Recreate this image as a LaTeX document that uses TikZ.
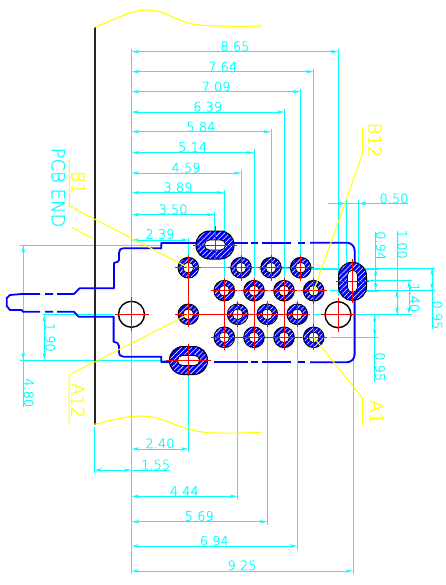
\documentclass[tikz,border=0pt]{standalone}
\usepackage{fontspec}
\setmainfont{DejaVu Sans}
\newfontfamily\thinfont[FakeBold=0.5]{DejaVu Sans ExtraLight}
\usetikzlibrary{arrows.meta,patterns.meta}
\definecolor{dimc}{RGB}{0,255,255}
\definecolor{leadc}{RGB}{255,255,0}
\definecolor{bodyc}{RGB}{0,0,255}
\definecolor{redc}{RGB}{255,0,0}
\tikzset{
 dimline/.style={draw=dimc,line width=0.8pt},
 dimarrow/.style={dimline,{Stealth[length=8pt,width=3.4pt]}-{Stealth[length=8pt,width=3.4pt]}},
 dimtext/.style={text=dimc,font=\thinfont\fontsize{13}{13}\selectfont,inner sep=0pt},
 vdimtext/.style={dimtext,rotate=-90},
 leadline/.style={draw=leadc,line width=1pt},
 leadtext/.style={text=leadc,font=\thinfont\fontsize{18}{18}\selectfont,inner sep=0pt,rotate=-90},
 bodyline/.style={draw=bodyc,line width=1.8pt},
 centreline/.style={draw=redc,line width=0.8pt},
 paleline/.style={draw=redc!55,line width=1.4pt},
 holeline/.style={draw=black,line width=1.4pt},
 ringfill/.style={fill=bodyc,draw=black,line width=1pt},
 ringhatch/.style={even odd rule,pattern={Lines[angle=45,distance=3.6pt,line width=0.55pt]},pattern color=white},
 ringhole/.style={fill=white,draw=black,line width=0.8pt},
}
\newcommand{\pinring}[2]{%
 \path[ringfill] (#1,#2) circle[radius=10.3];
 \path[ringhatch] (#1,#2) circle[radius=9.7];
 \path[ringhole] (#1,#2) circle[radius=5.4];
 \draw[centreline] (#1-13,#2) -- (#1+13,#2) (#1,#2-13) -- (#1,#2+13);}
\newcommand{\slot}[6]{% x,y,hw,hh,ihw,ihh
 \pgfmathsetmacro{\ra}{min(#3,#4)-0.5}
 \pgfmathsetmacro{\rb}{min(#5,#6)-0.2}
 \path[ringfill,rounded corners=\ra pt] (#1-#3,#2-#4) rectangle (#1+#3,#2+#4);
 \path[ringhatch,rounded corners=\ra pt] (#1-#3+.6,#2-#4+.6) rectangle (#1+#3-.6,#2+#4-.6);
 \path[ringhole,rounded corners=\rb pt] (#1-#5,#2-#6) rectangle (#1+#5,#2+#6);}
\begin{document}
\begin{tikzpicture}[x=1pt,y=-1pt]
\useasboundingbox[fill=white] (0,0) rectangle (446,585);
% ---- named points of the connector
\coordinate (bone) at (188.3,267.7);
\coordinate (aTwelve) at (188.3,314.3);
\coordinate (bTwelve) at (313.7,290.7);
\coordinate (aOne) at (313.7,337.3);
% ---- top dimension extension lines
\draw[dimline] (131.5,49) -- (131.5,573.5);
\draw[dimline] (338.3,49) -- (338.3,296);
\draw[dimline] (313.7,69) -- (313.7,280);
\draw[dimline] (300.3,89) -- (300.3,257);
\draw[dimline] (284.3,109) -- (284.3,280);
\draw[dimline] (271,129) -- (271,257);
\draw[dimline] (254.3,149) -- (254.3,280);
\draw[dimline] (241,170) -- (241,257);
\draw[dimline] (224.3,190) -- (224.3,280);
\draw[dimline] (214.7,212) -- (214.7,232);
\draw[dimline] (188.5,238) -- (188.5,255);
\foreach \yy/\xx in {51.7/338.3,71.7/313.7,91.7/300.3,112/284.3,131.7/271,152.7/254.3,173/241,192.7/224.3,214.7/214.7,240/188.5}
 \draw[dimarrow] (131.5,\yy) -- (\xx,\yy);
\node[dimtext] (t865) at (235,46.3) {8.65};
\node[dimtext] (t764) at (222.7,66.7) {7.64};
\node[dimtext] (t709) at (216,86.7) {7.09};
\node[dimtext] (t639) at (207.7,106.7) {6.39};
\node[dimtext] (t584) at (201,126.7) {5.84};
\node[dimtext] (t514) at (192.7,147) {5.14};
\node[dimtext] (t459) at (186,167.7) {4.59};
\node[dimtext] (t389) at (178,187.3) {3.89};
\node[dimtext] (t350) at (173,209.3) {3.50};
\node[dimtext] (t239) at (160,234) {2.39};
% ---- bottom dimension lines
\draw[dimline] (188.5,375) -- (188.5,452);
\draw[dimline] (94.5,426.7) -- (94.5,473.3);
\draw[dimline] (237.5,327) -- (237.5,499);
\draw[dimline] (267.5,327) -- (267.5,525);
\draw[dimline] (297.3,327) -- (297.3,549.7);
\draw[dimline] (353,275) -- (353,573.5);
\foreach \yy/\xx in {449/188.5,496.3/237.5,521.7/267.5,546/297.3,571/353}
 \draw[dimarrow] (131.5,\yy) -- (\xx,\yy);
\draw[dimarrow] (94.5,470) -- (131.5,470);
\draw[dimline] (131.5,470) -- (170,470);
\node[dimtext] (t240) at (160,443.3) {2.40};
\node[dimtext] (t155) at (155.7,464.7) {1.55};
\node[dimtext] (t444) at (184.3,491) {4.44};
\node[dimtext] (t569) at (199.3,516) {5.69};
\node[dimtext] (t694) at (214.3,540.7) {6.94};
\node[dimtext] (t925) at (242,565.3) {9.25};
% ---- right dimension lines
\draw[dimline] (328,203.5) -- (408,203.5);
\draw[dimline] (346.3,200) -- (346.3,265);
\draw[dimline] (358.3,200) -- (358.3,290);
\draw[dimline,-{Stealth[length=8pt,width=3.4pt]}] (336,203.5) -- (346.3,203.5);
\draw[dimline,-{Stealth[length=8pt,width=3.4pt]}] (369,203.5) -- (358.3,203.5);
\node[dimtext] (t050) at (394,198.3) {0.50};
\draw[dimline] (280,268) -- (434.7,268) (300,269.3) -- (379,269.3);
\draw[dimline] (330,290.3) -- (434.7,290.3) (340,291.7) -- (379,291.7);
\draw[dimline] (358,280.7) -- (412,280.7);
\draw[dimline] (313,314.3) -- (412,314.3);
\draw[dimline] (330,337) -- (378,337);
\draw[dimline] (375.7,231.7) -- (375.7,290);
\draw[dimarrow] (375.7,268) -- (375.7,290.3);
\node[vdimtext] (t094) at (380.8,245.7) {0.94};
\draw[dimline] (397,230.7) -- (397,314.3);
\draw[dimarrow] (397,290.3) -- (397,314.3);
\node[vdimtext] (t100) at (402.3,244.3) {1.00};
\draw[dimarrow] (409,280.7) -- (409,314.3);
\node[vdimtext] (t140) at (414.7,297.7) {1.40};
\draw[dimline] (432,268) -- (432,329);
\draw[dimarrow] (432,268) -- (432,290.3);
\node[vdimtext] (t095a) at (437.3,315) {0.95};
\draw[dimline] (374.7,314.3) -- (374.7,381.7);
\draw[dimarrow] (374.7,314.3) -- (374.7,337);
\node[vdimtext] (t095b) at (380,366.7) {0.95};
% ---- left dimension lines
\draw[dimline] (20,245) -- (163,245);
\draw[dimline] (20,360.3) -- (170,360.3);
\draw[dimline] (43,314.3) -- (113,314.3);
\draw[dimline] (23.3,245) -- (23.3,406.7);
\draw[dimarrow] (23.3,245) -- (23.3,360.3);
\node[vdimtext] (t480) at (28.8,392.7) {4.80};
\draw[dimarrow] (44.3,314.3) -- (44.3,360.3);
\node[vdimtext] (t190) at (50.2,337.3) {1.90};
\node[leadtext,text=dimc] (pcb) at (58.3,187.5) {PCB END};
% ---- panel edge and break curves
\draw[draw=black!85,line width=2pt] (94.5,27.5) -- (94.5,424.5);
\draw[leadline,line width=1.1pt] (94,27.3) .. controls (115,20) and (130,10) .. (146.7,10)
   .. controls (170,10) and (175,24) .. (205,25.5) .. controls (225,26.5) and (245,26.5) .. (261.7,26);
\draw[leadline,line width=1.1pt] (94.3,424.3) .. controls (110,421) and (125,416) .. (141.7,416)
   .. controls (165,416) and (180,431) .. (210,432.8) .. controls (228,433.5) and (245,433) .. (261.7,432.3);
% ---- body outline
\draw[bodyline] (161.3,242.7) -- (197,242.7) (233,242.7) -- (248,242.7) (251,242.7) -- (258,242.7) (262,242.7) -- (291,242.7) (298,242.7) -- (305,242.7);
\draw[bodyline,rounded corners=8pt] (310,242.7) -- (354.7,242.7) -- (354.7,362.3) -- (310,362.3);
\draw[bodyline] (305,362.3) -- (298,362.3) (291,362.3) -- (262,362.3) (258,362.3) -- (251,362.3) (248,362.3) -- (214,362.3) (170,362.3) -- (161.3,362.3);
\draw[bodyline,line join=round] (161.3,242.7) -- (161.3,248.3) -- (124,248.3) .. controls (120.5,248.3) and (119,250) .. (119,253) -- (119,260) .. controls (119,262) and (117,262) .. (114,263) -- (114,288.3) -- (79.5,288.3) -- (74,294);
\draw[bodyline,line join=round] (74,294) -- (57,294) (53,294) -- (45,294) (40,294) -- (21.7,294) -- (10,295) -- (6.7,298) -- (6.7,306) -- (10,310) -- (21.7,310) -- (23,311.7) -- (40,311.7) (45,311.7) -- (53,311.7) (57,311.7) -- (74,311.7);
\draw[bodyline,line join=round] (74,311.7) -- (78.5,316.7) -- (113.6,316.7) -- (113.6,341.7) .. controls (116,342) and (119,343) .. (119,346) -- (119,351.7) .. controls (119,355) and (120.5,356.7) .. (123.5,356.7) -- (161.3,356.7) -- (161.3,362.3);
% ---- red centre lines
\draw[paleline] (188.3,267.7) -- (300.7,267.7) (224.3,290.7) -- (313.7,290.7) (313.7,290.7) -- (313.7,337.3);
\draw[paleline,line width=1pt] (224.3,337.3) -- (313.7,337.3) (284,290.7) -- (284,337.3);
\draw[centreline] (188.3,267.7) -- (188.3,314.3) -- (297.3,314.3) (224.3,290.7) -- (224.3,337.3) -- (313.7,337.3) (254,290.7) -- (254,337.3) (284,290.7) -- (284,337.3);
% ---- round holes
\draw[holeline] (131.5,314.3) circle[radius=13];
\draw[holeline] (338,314.7) circle[radius=13];
\draw[centreline] (114.5,314.3) -- (148.5,314.3) (131.5,297.3) -- (131.5,331.3);
\draw[centreline] (321,314.7) -- (355,314.7) (338,297.7) -- (338,331.7);
% ---- mounting slots
\slot{215}{245}{19}{14}{10.5}{5}
\slot{188.5}{360.5}{19}{14}{11}{5}
\slot{352.5}{281.3}{14}{19}{5}{11}
\draw[centreline] (193,245) -- (237,245) (215,226) -- (215,260);
\draw[centreline] (166,360.5) -- (211,360.5) (188.5,344) -- (188.5,376);
\draw[centreline] (336,281.3) -- (369,281.3) (352.5,259) -- (352.5,303);
% ---- contacts
\foreach \px/\py in {188.3/267.7,188.3/314.3,
  241/267.7,271/267.7,300.7/267.7,
  224.3/290.7,254/290.7,284/290.7,313.7/290.7,
  237.7/314.3,267.3/314.3,297.3/314.3,
  224.3/337.3,254/337.3,284/337.3,313.7/337.3}
 \pinring{\px}{\py}
% ---- leaders
\coordinate (lbone) at (69.3,206);
\coordinate (lbonetop) at (69.3,159.3);
\coordinate (latwelve) at (69,375);
\coordinate (latwelveend) at (69,423.3);
\coordinate (lbtwelve) at (362.7,153.3);
\coordinate (lbtwelvetop) at (362.7,126.7);
\coordinate (laone) at (362.7,398.3);
\coordinate (laoneend) at (362.7,425);
\coordinate (lpcba) at (71.7,227.3);
\coordinate (lpcbb) at (92.7,238.3);
\draw[leadline] (lbonetop) -- (lbone) -- (bone);
\draw[leadline] (latwelveend) -- (latwelve) -- (aTwelve);
\draw[leadline] (lbtwelvetop) -- (lbtwelve) -- (bTwelve);
\draw[leadline] (laoneend) -- (laone) -- (aOne);
\draw[leadline] (lpcba) -- (lpcbb);
\node[leadtext] (tbone) at (78.3,182.7) {B1};
\node[leadtext] (tatwelve) at (78,400.5) {A12};
\node[leadtext] (tbtwelve) at (375,140) {B12};
\node[leadtext] (taone) at (376.5,412) {A1};
\end{tikzpicture}
\end{document}
